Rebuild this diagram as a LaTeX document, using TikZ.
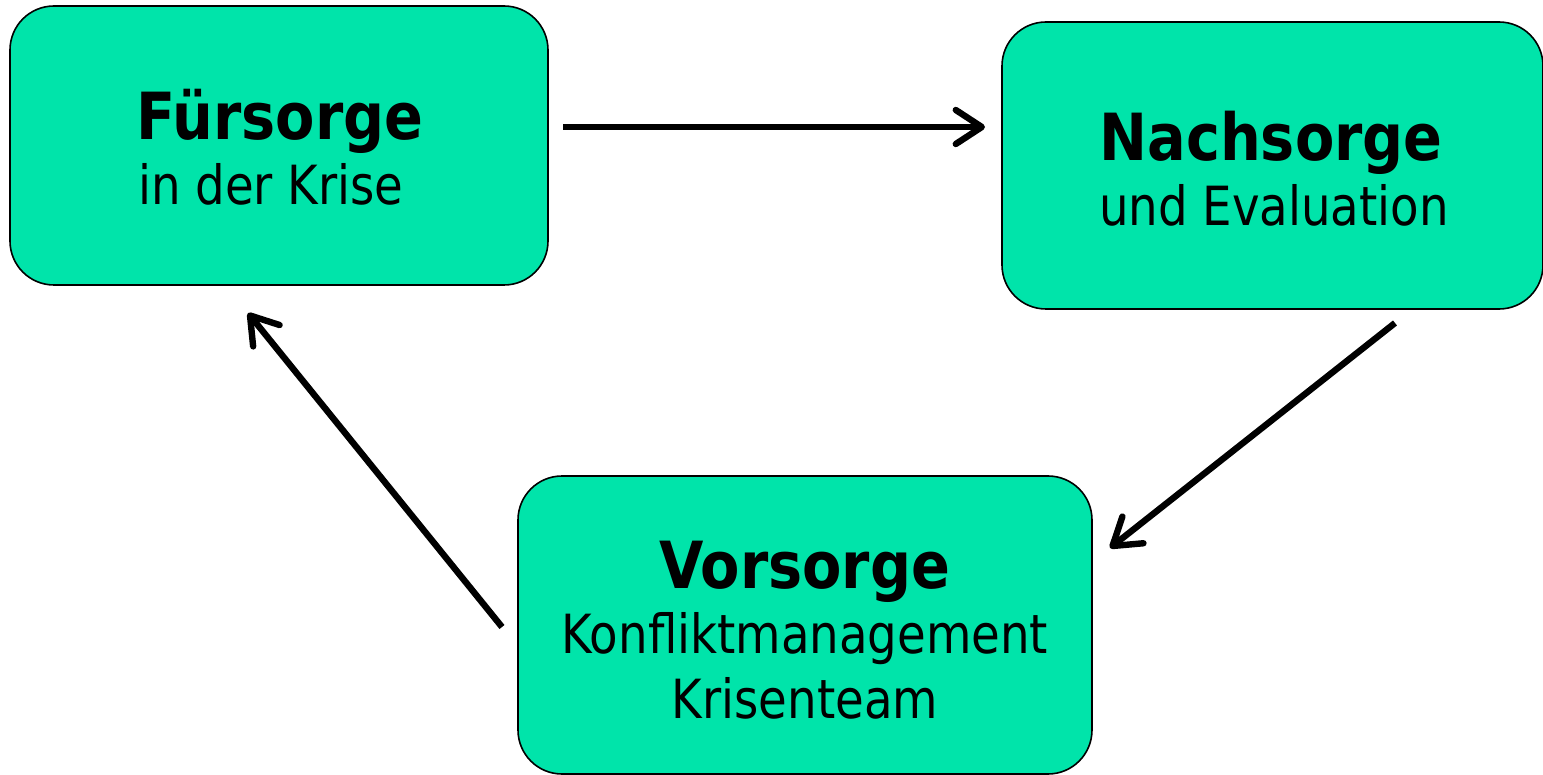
\documentclass[tikz,border=0pt]{standalone}
\usepackage{fontspec}
\setmainfont{DejaVu Sans Condensed}
\newfontfamily\subfont{DejaVu Sans Condensed}[FakeStretch=0.96]
\newfontfamily\titlefont{DejaVu Sans Condensed}[FakeStretch=0.98]
\usetikzlibrary{arrows.meta}
\definecolor{boxfill}{RGB}{0,228,170}
\tikzset{
  box/.style={draw=black, line width=0.8pt, fill=boxfill, rounded corners=22pt, inner sep=0pt},
  title/.style={anchor=base, font=\titlefont\fontsize{32.5}{36}\selectfont\bfseries, inner sep=0pt},
  sub/.style={anchor=base, font=\subfont\fontsize{27}{30}\selectfont, inner sep=0pt},
  conn/.style={line width=3.2pt, -{Straight Barb[length=13pt, width=17pt, line cap=round, line join=round]}}
}
\begin{document}
\begin{tikzpicture}[x=0.5pt, y=-0.5pt]
\useasboundingbox (0,0) rectangle (1543,775);
\node[box, minimum width=269pt, minimum height=139.5pt] (fbox) at (279,145.5) {};
\node[box, minimum width=270.5pt, minimum height=143.5pt] (nbox) at (1272.5,165.5) {};
\node[box, minimum width=287pt, minimum height=149pt] (vbox) at (805,625) {};
\node[title] (ft) at (280,140) {Fürsorge};
\node[sub] (fs) at (271,205) {in der Krise};
\node[title] (nt) at (1271,161) {Nachsorge};
\node[sub] (ns) at (1274,226) {und Evaluation};
\node[title] (vt) at (805,588) {Vorsorge};
\node[sub] (vs1) at (805,653) {Konfliktmanagement};
\node[sub] (vs2) at (805,718) {Krisenteam};
\coordinate (a1s) at (563,127);
\coordinate (a1e) at (985,127);
\coordinate (a2s) at (1395,323);
\coordinate (a2e) at (1110,548);
\coordinate (a3s) at (502,627);
\coordinate (a3e) at (248,313);
\draw[conn] (a1s) -- (a1e);
\draw[conn] (a2s) -- (a2e);
\draw[conn] (a3s) -- (a3e);
\end{tikzpicture}
\end{document}
